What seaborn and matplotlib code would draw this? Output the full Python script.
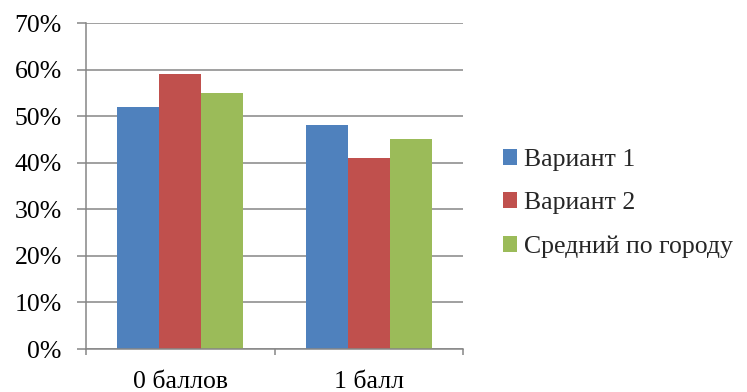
import matplotlib
matplotlib.use("Agg")
import matplotlib.pyplot as plt
import seaborn as sns
import pandas as pd
from matplotlib.ticker import FuncFormatter, FixedLocator

categories = ["0 баллов", "1 балл"]
series = ["Вариант 1", "Вариант 2", "Средний по городу"]
variant1 = [52, 48]
variant2 = [59, 41]
city_avg = [55, 45]
colors = ["#4F81BD", "#C0504D", "#9BBB59"]

rows = []
for name, vals in zip(series, [variant1, variant2, city_avg]):
    for cat, v in zip(categories, vals):
        rows.append({"cat": cat, "series": name, "value": v})
df = pd.DataFrame(rows)

sns.set_theme(style="white")
plt.rcParams["font.family"] = ["Liberation Serif", "DejaVu Serif"]
FS = 18.5

fig = plt.figure(figsize=(7.47, 3.92), dpi=100)
ax = fig.add_axes([86 / 747, 1 - 349 / 392, (463 - 86) / 747, (349 - 23) / 392])

sns.barplot(data=df, x="cat", y="value", hue="series", order=categories,
            hue_order=series, palette=colors, width=0.667, gap=0,
            linewidth=0, saturation=1, ax=ax, legend=True)

grid_c = "#868686"
ax.set_ylim(0, 70)
ax.set_xlim(-0.5, 1.5)
ax.set_yticks(range(0, 71, 10))
ax.yaxis.set_major_formatter(FuncFormatter(lambda v, _: f"{int(v)}%"))
ax.yaxis.grid(True, color=grid_c, linewidth=1.1)
ax.set_axisbelow(True)
ax.set_xlabel("")
ax.set_ylabel("")

for s in ["top", "right"]:
    ax.spines[s].set_visible(False)
for s in ["left", "bottom"]:
    ax.spines[s].set_color(grid_c)
    ax.spines[s].set_linewidth(1.1)

ax.tick_params(axis="y", which="major", left=True, length=6.5, width=1.1,
               color=grid_c, pad=11, labelsize=FS, labelcolor="black")
ax.tick_params(axis="x", which="major", bottom=False, pad=10,
               labelsize=FS, labelcolor="black")
ax.xaxis.set_minor_locator(FixedLocator([-0.5, 0.5, 1.5]))
ax.tick_params(axis="x", which="minor", bottom=True, length=4, width=1.1,
               color=grid_c)

handles, labels = ax.get_legend_handles_labels()
ax.legend_.remove()
fig.legend(handles, labels, loc="center left", bbox_to_anchor=(503 / 747, 1 - 203.5 / 392),
           frameon=False, fontsize=FS, handlelength=0.55, handleheight=0.55,
           handletextpad=0.25, labelspacing=0.83, borderaxespad=0, borderpad=0)

fig.savefig("out.png", dpi=100)
